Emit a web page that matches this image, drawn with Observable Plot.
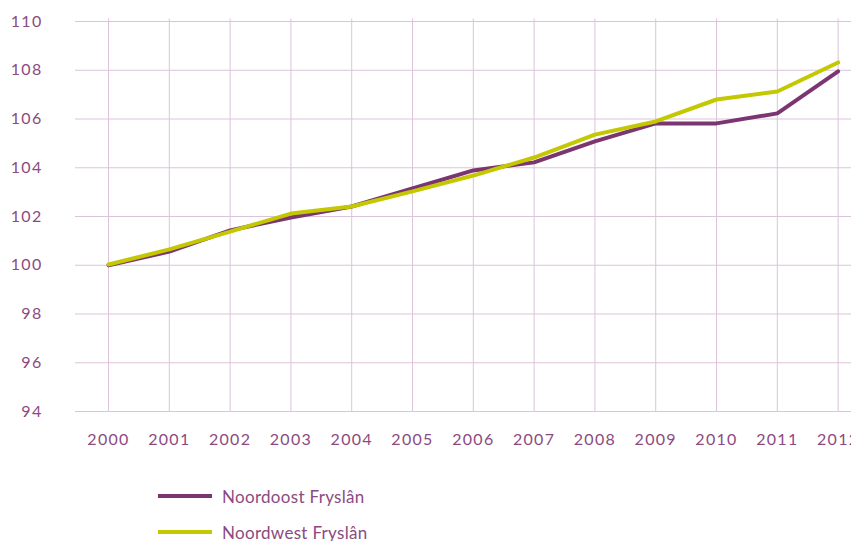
<!DOCTYPE html>
<html><head><meta charset="utf-8">
<script src="https://cdn.jsdelivr.net/npm/d3@7"></script>
<script src="https://cdn.jsdelivr.net/npm/@observablehq/plot@0.6"></script>
<style>
html,body{margin:0;background:#fff;font-family:Lato,"Open Sans",sans-serif;}
body{position:relative;width:851px;height:541px;overflow:hidden;}
#chart svg{overflow:hidden;display:block}
.legend{position:absolute;left:158px;top:0;font-size:17px;color:#8b4a80;font-family:Lato,sans-serif;letter-spacing:0.3px;}
.legend .row{position:absolute;white-space:nowrap;display:flex;align-items:center;height:24px;}
.legend .sw{display:inline-block;width:54px;height:4px;margin-right:10px;}
</style></head>
<body>
<div id="chart"></div>
<div class="legend"><div class="row" style="top:484px"><span class="sw" style="background:#7b3570"></span>Noordoost Fryslân</div>
<div class="row" style="top:520px"><span class="sw" style="background:#c3c800"></span>Noordwest Fryslân</div></div>
<script>
const years = [2000,2001,2002,2003,2004,2005,2006,2007,2008,2009,2010,2011,2012];
const noordoost = [100.0,100.56,101.43,101.96,102.41,103.15,103.89,104.22,105.08,105.82,105.82,106.23,107.95];
const noordwest = [100.03,100.65,101.38,102.12,102.41,103.03,103.68,104.42,105.36,105.9,106.8,107.13,108.32];
const yTicks = [94,96,98,100,102,104,106,108,110];
const seriesNames = ["Noordoost Fryslân","Noordwest Fryslân"];
const colors = ["#7b3570","#c3c800"];

const data = [
  ...years.map((y,i)=>({year:y,value:noordoost[i],series:seriesNames[0]})),
  ...years.map((y,i)=>({year:y,value:noordwest[i],series:seriesNames[1]}))
];

const chart = Plot.plot({
  width: 851, height: 470,
  marginLeft: 75, marginRight: 0, marginTop: 21, marginBottom: 59,
  style:{fontFamily:"Lato, sans-serif", fontSize:"16px", color:"#8b4a80", letterSpacing:"1.3px", background:"#fff"},
  x:{type:"linear", domain:[1999.457,2012.22], ticks:years, tickFormat:d=>String(d), tickSize:0, tickPadding:22, label:null},
  y:{domain:[94,110], ticks:yTicks, tickSize:0, tickPadding:33, label:null},
  color:{domain:seriesNames, range:colors},
  marks:[
    Plot.gridY(yTicks,{stroke:"#dcc3da", strokeOpacity:1, strokeWidth:1}),
    Plot.ruleX(years,{y1:94,y2:110.1,stroke:"#dcc3da", strokeWidth:1}),
    Plot.axisX({ticks:years, tickFormat:d=>String(d), tickSize:0, tickPadding:22, fill:"#8b4a80"}),
    Plot.axisY({ticks:yTicks, tickSize:0, tickPadding:33, fill:"#8b4a80"}),
    Plot.line(data,{x:"year",y:"value",stroke:"series",strokeWidth:4,strokeLinejoin:"miter",curve:"linear"})
  ]
});
document.getElementById("chart").appendChild(chart);
</script>
</body></html>
